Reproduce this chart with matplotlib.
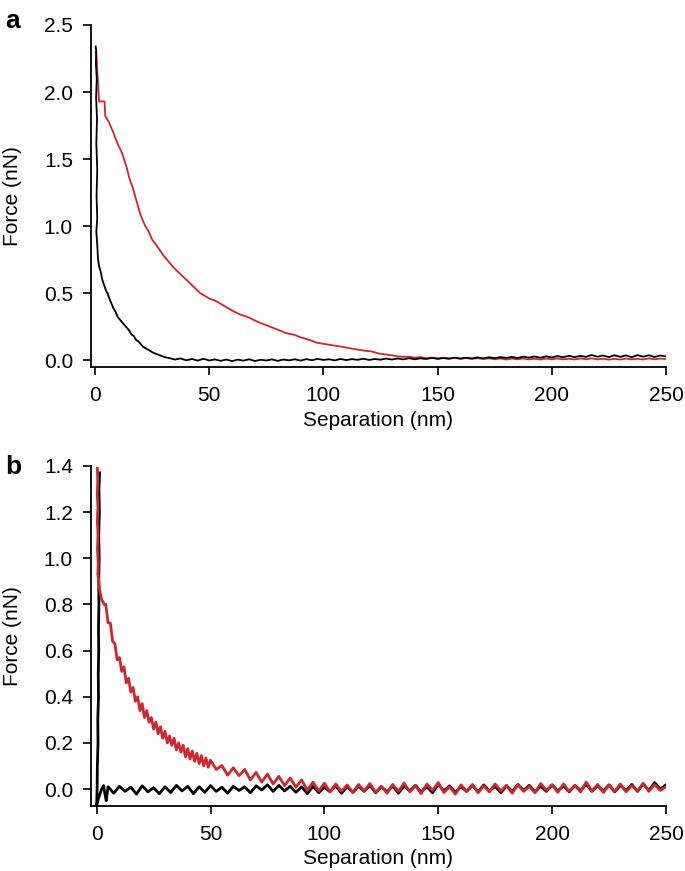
import numpy as np
import matplotlib.pyplot as plt

plt.rcParams['font.family'] = ['Liberation Sans', 'DejaVu Sans']
plt.rcParams['font.size'] = 15

RED = '#d0262d'

# ---- panel a ----
# black: contact spike + decay (x, F)
a_black_x = [0.3, 0.6, 0.4, 0.8, 0.5, 0.9, 0.6, 1.0, 0.7, 1.0, 0.6, 1.0, 1.3, 1.8,
             2.5, 3.2, 4.0, 5.0, 5.5, 6.3, 7.0, 8.0, 9.0, 10.0, 11.0, 12.0, 13.0,
             14.0, 15.0, 16.0, 17.0, 18.0, 19.0, 20.0, 21.0, 22.5, 24.0, 25.5,
             27.0, 28.5, 30.0, 31.0]
a_black_y = [2.34, 2.30, 2.22, 2.10, 1.96, 1.80, 1.62, 1.42, 1.22, 1.06, 0.96, 0.86,
             0.76, 0.70, 0.66, 0.60, 0.56, 0.51, 0.50, 0.46, 0.43, 0.39, 0.36, 0.32,
             0.30, 0.28, 0.26, 0.24, 0.22, 0.19, 0.18, 0.15, 0.14, 0.12, 0.10,
             0.085, 0.07, 0.055, 0.045, 0.035, 0.025, 0.02]
# black baseline, read every 2.5 nm from 32.5 nm
a_black_flat = [0.015, 0.004, 0.012, -0.002, 0.008, -0.004, 0.010, -0.003, 0.005, -0.006,
                0.004, -0.008, 0.003, -0.004, 0.006, -0.007, 0.002, -0.003, 0.005, -0.006,
                0.004, -0.002, 0.006, -0.004, 0.007, -0.001, 0.009, 0.001, 0.006, -0.002,
                0.008, 0.000, 0.007, 0.002, 0.010, 0.001, 0.008, 0.003, 0.011, 0.004,
                0.012, 0.005, 0.014, 0.006, 0.013, 0.008, 0.016, 0.009, 0.015, 0.010,
                0.018, 0.011, 0.017, 0.012, 0.020, 0.013, 0.021, 0.014, 0.022, 0.016,
                0.024, 0.015, 0.026, 0.018, 0.027, 0.017, 0.028, 0.020, 0.030, 0.021,
                0.032, 0.022, 0.031, 0.024, 0.038, 0.025, 0.034, 0.022, 0.036, 0.024,
                0.035, 0.021, 0.037, 0.025, 0.036, 0.023, 0.034, 0.028]

# red: decay (x, F)
a_red_x = [0.3, 0.8, 1.0, 1.4, 1.8, 4.2, 4.5, 6.0, 8.0, 10.0, 11.5, 12.7, 14.0, 15.0,
           16.5, 17.8, 19.0, 20.0, 22.0, 23.5, 25.0, 28.0, 30.0, 32.5, 35.0, 37.5,
           40.0, 43.0, 46.0, 50.0, 53.0, 56.0, 60.0, 63.5, 67.0, 72.0, 75.0, 78.0,
           84.0, 87.0, 90.0, 94.0, 97.0, 104.0, 108.0, 111.0, 118.0, 121.0, 124.0,
           128.0, 130.0, 134.0]
a_red_y = [2.30, 2.25, 2.15, 2.05, 1.93, 1.93, 1.82, 1.78, 1.70, 1.61, 1.56, 1.50, 1.43,
           1.36, 1.29, 1.21, 1.14, 1.08, 1.00, 0.96, 0.90, 0.83, 0.78, 0.73, 0.68,
           0.64, 0.60, 0.55, 0.50, 0.46, 0.44, 0.41, 0.37, 0.34, 0.32, 0.28, 0.26,
           0.24, 0.20, 0.19, 0.17, 0.15, 0.13, 0.11, 0.10, 0.09, 0.07, 0.065, 0.05,
           0.04, 0.035, 0.025]
# red baseline, read every 2.5 nm from 137.5 nm
a_red_flat = [0.025, 0.018, 0.022, 0.014, 0.019, 0.012, 0.017, 0.011, 0.016, 0.010,
              0.015, 0.009, 0.014, 0.008, 0.013, 0.006, 0.012, 0.004, 0.011, 0.006,
              0.012, 0.005, 0.010, 0.004, 0.011, 0.006, 0.012, 0.005, 0.010, 0.004,
              0.012, 0.006, 0.013, 0.005, 0.010, 0.003, 0.009, 0.004, 0.011, 0.005,
              0.010, 0.004, 0.012, 0.006, 0.011, 0.008]

# ---- panel b ----
b_black_x = [1.3, 1.0, 1.2, 0.9, 1.1, 0.9, 1.0, 0.8, 0.9, 0.7, 0.8, 0.5, 0.6, 0.3, 0.2,
             0.0, 0.8, 1.5, 2.2, 3.0, 3.6, 4.2, 4.6]
b_black_y = [1.37, 1.30, 1.20, 1.10, 1.00, 0.90, 0.80, 0.70, 0.60, 0.50, 0.40, 0.30,
             0.20, 0.10, 0.00, -0.07, -0.04, -0.02, 0.00, 0.015, -0.02, -0.05, -0.02]
# black baseline, read every 2.5 nm from 5 nm
b_black_flat = [0.010, -0.018, 0.012, -0.010, 0.008, -0.022, 0.014, -0.012, 0.006, -0.020,
                0.010, -0.015, 0.016, -0.008, 0.012, -0.020, 0.010, -0.014, 0.015, -0.010,
                0.008, -0.018, 0.012, -0.006, 0.010, -0.016, 0.014, -0.004, 0.018, -0.010,
                0.016, -0.008, 0.012, -0.014, 0.010, -0.020, 0.012, -0.016, 0.008, -0.012,
                0.014, -0.018, 0.010, -0.014, 0.012, -0.010, 0.016, -0.016, 0.010, -0.012,
                0.014, -0.018, 0.012, -0.008, 0.016, -0.012, 0.010, -0.016, 0.020, -0.008,
                0.014, -0.014, 0.010, -0.010, 0.016, -0.012, 0.018, -0.008, 0.012, -0.016,
                0.014, -0.010, 0.020, -0.006, 0.016, -0.012, 0.012, -0.010, 0.018, -0.008,
                0.014, -0.012, 0.016, -0.006, 0.020, -0.010, 0.014, -0.008, 0.018, -0.012,
                0.016, -0.006, 0.020, -0.010, 0.022, -0.006, 0.028, 0.000, 0.018]

b_red_x = [0.3, 0.5, 0.25, 0.55, 0.3, 0.6, 0.35, 0.7, 0.5, 1.0, 1.3, 1.8, 2.2, 2.8, 3.3]
b_red_y = [1.39, 1.33, 1.28, 1.22, 1.16, 1.10, 1.04, 0.98, 0.93, 0.90, 0.86, 0.84,
           0.82, 0.81, 0.80]
# red decay, read every 1 nm from 4 nm
b_red_decay = [0.80, 0.72, 0.72, 0.64, 0.63, 0.56, 0.57, 0.51, 0.53, 0.46, 0.48, 0.42,
               0.44, 0.38, 0.40, 0.34, 0.37, 0.31, 0.34, 0.29, 0.31, 0.26, 0.29, 0.24,
               0.27, 0.22, 0.25, 0.20, 0.23, 0.19, 0.22, 0.17, 0.20, 0.16, 0.19, 0.14,
               0.175, 0.13, 0.165, 0.12, 0.155, 0.11, 0.145, 0.10, 0.135, 0.095]
# red tail, read every 2.5 nm from 50 nm
b_red_flat = [0.125, 0.085, 0.102, 0.060, 0.092, 0.058, 0.085, 0.040, 0.072, 0.030,
              0.065, 0.022, 0.055, 0.015, 0.048, 0.008, 0.040, -0.005, 0.030, -0.008,
              0.025, -0.012, 0.022, -0.010, 0.018, -0.015, 0.020, -0.008, 0.024, -0.014,
              0.012, -0.018, 0.020, -0.010, 0.026, -0.012, 0.015, -0.020, 0.022, -0.006,
              0.028, -0.015, 0.010, -0.022, 0.018, -0.010, 0.020, -0.016, 0.014, -0.012,
              0.022, -0.008, 0.016, -0.018, 0.020, -0.010, 0.012, -0.016, 0.024, -0.006,
              0.018, -0.014, 0.022, -0.010, 0.016, -0.012, 0.030, -0.008, 0.020, -0.015,
              0.018, -0.010, 0.022, -0.012, 0.015, -0.008, 0.025, -0.010, 0.020, -0.006,
              0.010]


def steps(start, step, vals):
    return list(start + step * np.arange(len(vals)))


def style(ax, xlim, ylim, yticks, ytl):
    ax.set_xlim(*xlim)
    ax.set_ylim(*ylim)
    for s in ('top', 'right'):
        ax.spines[s].set_visible(False)
    for s in ('left', 'bottom'):
        ax.spines[s].set_linewidth(1.3)
    ax.set_xticks([0, 50, 100, 150, 200, 250])
    ax.set_yticks(yticks)
    ax.set_yticklabels(ytl)
    ax.tick_params(direction='out', length=6, width=1.2, labelsize=15)
    ax.tick_params(axis='x', pad=8)
    ax.tick_params(axis='y', pad=7)
    ax.set_xlabel('Separation (nm)', fontsize=15)
    ax.set_ylabel('Force (nN)', fontsize=15)
    ax.xaxis.set_label_coords(0.5, -0.128)
    ax.yaxis.set_label_coords(-0.12, 0.5)
    ax.patch.set_alpha(0)


fig = plt.figure(figsize=(6.85, 8.71), dpi=100)

ax1 = fig.add_axes([0.1328, 0.5786, 0.8394, 0.3927])
ax1.plot(a_red_x + steps(137.5, 2.5, a_red_flat), a_red_y + a_red_flat,
         color=RED, lw=1.3, zorder=2)
ax1.plot(a_black_x + steps(32.5, 2.5, a_black_flat), a_black_y + a_black_flat,
         color='black', lw=1.3, zorder=3)
style(ax1, (-1.75, 250), (-0.052, 2.5), [0, 0.5, 1.0, 1.5, 2.0, 2.5],
      ['0.0', '0.5', '1.0', '1.5', '2.0', '2.5'])

ax2 = fig.add_axes([0.1328, 0.075, 0.8394, 0.39])
ax2.plot(b_black_x + steps(5, 2.5, b_black_flat), b_black_y + b_black_flat,
         color='black', lw=2.0, zorder=2)
ax2.plot(b_red_x + steps(4, 1, b_red_decay) + steps(50, 2.5, b_red_flat),
         b_red_y + b_red_decay + b_red_flat, color=RED, lw=2.0, zorder=3)
style(ax2, (-2.5, 250), (-0.072, 1.4), [0, 0.2, 0.4, 0.6, 0.8, 1.0, 1.2, 1.4],
      ['0.0', '0.2', '0.4', '0.6', '0.8', '1.0', '1.2', '1.4'])

fig.text(0.007, 0.99, 'a', fontsize=19, fontweight='bold', va='top')
fig.text(0.007, 0.478, 'b', fontsize=19, fontweight='bold', va='top')

fig.savefig('out.png', dpi=100)
